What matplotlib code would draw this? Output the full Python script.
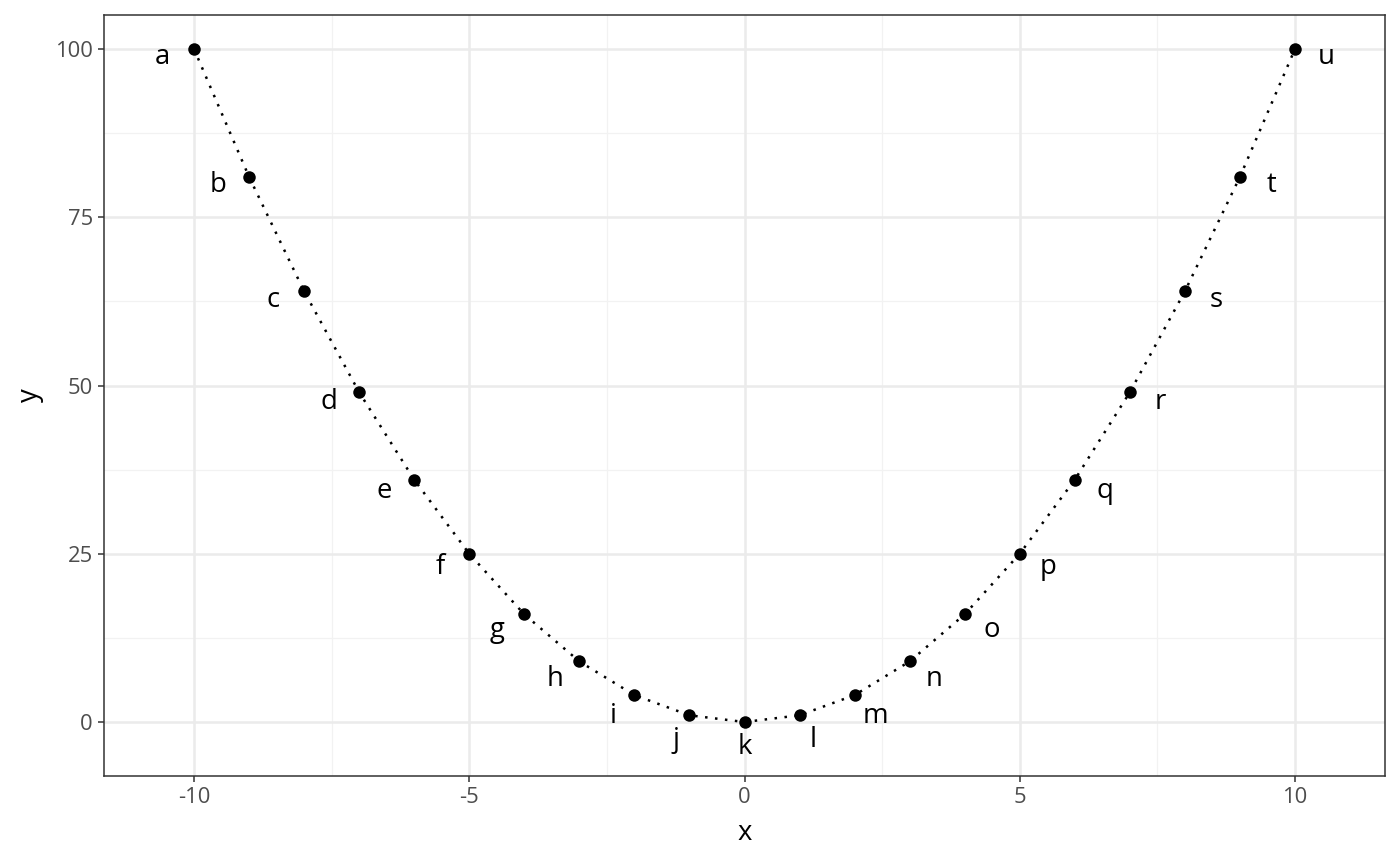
import numpy as np
import matplotlib
matplotlib.use("Agg")
import matplotlib.pyplot as plt

x = [-10, -9, -8, -7, -6, -5, -4, -3, -2, -1, 0, 1, 2, 3, 4, 5, 6, 7, 8, 9, 10]
y = [100, 81, 64, 49, 36, 25, 16, 9, 4, 1, 0, 1, 4, 9, 16, 25, 36, 49, 64, 81, 100]
labels = list("abcdefghijklmnopqrstu")
xticks = [-10, -5, 0, 5, 10]
yticks = [0, 25, 50, 75, 100]

plt.rcParams['font.family'] = ['Open Sans', 'DejaVu Sans']

fig = plt.figure(figsize=(14, 8.66), dpi=100)
ax = fig.add_axes([104/1400, 1 - 776/866, (1385-104)/1400, (776-15)/866])

ax.set_xlim(-11.635, 11.635)
ax.set_ylim(-8.02, 105.05)

# grid
for v in [-7.5, -2.5, 2.5, 7.5]:
    ax.axvline(v, color='#F2F2F2', lw=0.9, zorder=0)
for v in [12.5, 37.5, 62.5, 87.5]:
    ax.axhline(v, color='#F2F2F2', lw=0.9, zorder=0)
for v in xticks:
    ax.axvline(v, color='#EBEBEB', lw=1.8, zorder=0)
for v in yticks:
    ax.axhline(v, color='#EBEBEB', lw=1.8, zorder=0)

ax.plot(x, y, color='black', lw=1.8, linestyle=(0, (1, 3)), zorder=2)
ax.scatter(x, y, s=9.0**2, color='black', zorder=3, linewidths=0)

for xi, yi, lab in zip(x, y, labels):
    ax_ = abs(xi)
    frac = 1.0 / (1 + 0.5 * ax_ + 0.03 * ax_ ** 2)
    ang = np.deg2rad(90 * frac)
    r = (23 + 9 * (1 - np.exp(-ax_ / 2.5))) * 0.72
    dx = np.sign(xi) * r * np.cos(ang)
    dy = -r * np.sin(ang) - 1.5
    ax.annotate(lab, (xi, yi), xytext=(dx, dy), textcoords='offset points',
                ha='center', va='center', fontsize=19.8, color='black')

ax.set_xticks(xticks)
ax.set_yticks(yticks)
ax.set_xticklabels([str(t) for t in xticks])
ax.set_yticklabels([str(t) for t in yticks])
ax.tick_params(axis='both', length=4.5, width=1.1, color='#333333',
               labelsize=15.8, labelcolor='#4D4D4D', pad=3.5)
for s in ax.spines.values():
    s.set_color('#333333')
    s.set_linewidth(1.1)

ax.set_xlabel('x', fontsize=19.8, labelpad=8)
ax.set_ylabel('y', fontsize=19.8, labelpad=8)

fig.savefig('out.png', dpi=100)
